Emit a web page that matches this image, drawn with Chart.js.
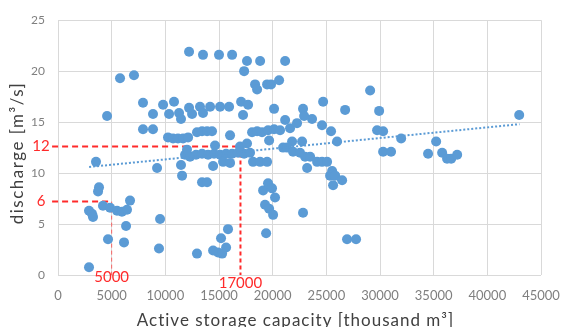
<!DOCTYPE html>
<html>
<head>
<meta charset="utf-8">
<script src="https://cdn.jsdelivr.net/npm/chart.js@4/dist/chart.umd.min.js"></script>
<style>
  html, body { margin: 0; padding: 0; background: #ffffff; }
  #wrap { width: 585px; height: 327px; }
</style>
</head>
<body>
<div id="wrap"><canvas id="c" width="585" height="327"></canvas></div>
<script>
// ---- Data ----
const capacity = [
  12210,13510,15000,16220,17610,18830,21160,17340,5780,7080,
  18360,18550,19480,19850,20600,29080,4570,7920,8850,9790,
  10810,10350,11280,11460,12210,12490,13230,13510,14170,15100,
  15940,24700,17060,17710,17240,20130,22830,23670,26750,29920,
  42970,7920,8850,10250,10720,11180,11650,12120,12950,13420,
  13890,14350,16030,18080,18550,19010,19570,20130,20690,21620,
  22270,21160,22930,24600,25440,29730,30290,31970,19670,21810,
  22740,26000,35230,11840,12300,12860,13420,13980,14540,15100,
  15660,16220,16780,17340,17890,14630,16960,17610,12020,14450,
  15380,16030,18170,18830,19480,9230,11460,11560,13420,13890,
  20970,21340,21900,22550,23020,23490,24140,24600,25070,25540,
  25350,25820,26470,25630,23210,30290,31030,34480,35790,36250,
  36630,37190,3540,19110,19570,19940,20220,19290,19670,20040,
  19390,22830,26930,27770,15840,15190,15660,15290,14910,14450,
  12950,9510,9410,3820,3730,2890,3170,3260,4190,4850,
  5500,5960,6430,6710,6340,4660,6150,2890
];
const discharge = [
  21.9,21.6,21.6,21.6,21.0,21.0,21.0,20.0,19.3,19.6,
  18.7,18.2,18.7,18.7,19.1,18.1,15.6,16.9,15.8,16.7,
  17.0,15.8,15.9,15.3,16.4,15.8,16.5,15.9,16.5,16.5,
  16.5,17.0,17.0,16.7,15.7,16.3,16.3,15.3,16.2,16.1,
  15.7,14.3,14.3,13.5,13.4,13.4,13.4,13.5,14.0,14.1,
  14.1,14.1,13.7,14.0,14.1,14.0,14.2,14.3,14.2,14.4,
  14.9,15.2,15.6,14.7,14.1,14.2,14.1,13.4,13.2,13.1,
  13.1,13.1,13.1,11.8,11.6,11.8,11.9,11.8,11.9,11.8,
  11.9,11.9,12.0,11.9,12.0,12.7,12.6,12.9,12.3,10.7,
  11.1,11.0,11.1,11.1,11.1,10.5,10.8,9.75,9.1,9.1,
  12.5,12.5,12.1,12.0,11.6,11.6,11.1,11.1,11.1,10.2,
  9.75,9.75,9.3,8.8,10.5,12.1,12.1,11.9,12.0,11.4,
  11.4,11.8,11.1,8.3,9.0,8.5,7.6,6.9,6.5,5.9,
  4.1,6.1,3.5,3.5,4.5,3.6,2.7,2.1,2.2,2.4,
  2.1,5.5,2.6,8.6,8.2,6.3,6.0,5.7,6.8,6.6,
  6.3,6.2,6.4,7.3,4.8,3.5,3.2,0.76
];
// Linear trendline end points (as drawn in the reference)
const trendX = [2900, 43000];
const trendY = [10.6, 14.8];
// Red reference guides: capacity value, drawn discharge level, labels
const guideX = [5000, 17000];
const guideYLevel = [7.2, 12.6];
const guideXLabels = ['5000', '17000'];
const guideYLabels = ['6', '12'];
// Axis ticks / titles
const xTicks = [0, 5000, 10000, 15000, 20000, 25000, 30000, 35000, 40000, 45000];
const yTicks = [0, 5, 10, 15, 20, 25];
const xTitle = 'Active storage capacity [thousand m³]';
const yTitle = 'discharge [m³/s]';

const BLUE = '#5b9bd5';
const RED = '#ff2a2a';
const FONT = 'Lato, "Open Sans", "DejaVu Sans", sans-serif';

const scatterData = capacity.map((x, i) => ({ x: x, y: discharge[i] }));
const trendData = trendX.map((x, i) => ({ x: x, y: trendY[i] }));

const guidesPlugin = {
  id: 'guides',
  beforeDatasetsDraw(chart) {
    const ctx = chart.ctx;
    const xs = chart.scales.x, ys = chart.scales.y;
    ctx.save();
    for (let i = 0; i < guideX.length; i++) {
      const px = xs.getPixelForValue(guideX[i]);
      const py = ys.getPixelForValue(guideYLevel[i]);
      const x0 = xs.getPixelForValue(-550);
      const yb = ys.getPixelForValue(0);
      ctx.strokeStyle = RED;
      ctx.lineWidth = 2;
      ctx.setLineDash([6, 4]);
      ctx.beginPath();
      ctx.moveTo(x0, py);
      ctx.lineTo(px, py);
      ctx.stroke();
      ctx.lineWidth = i === 0 ? 1 : 2;
      ctx.strokeStyle = i === 0 ? 'rgba(255,60,60,0.75)' : RED;
      ctx.setLineDash([4, 3]);
      ctx.beginPath();
      ctx.moveTo(px, py);
      ctx.lineTo(px, yb);
      ctx.stroke();
    }
    ctx.restore();
  },
  afterDraw(chart) {
    const ctx = chart.ctx;
    const xs = chart.scales.x, ys = chart.scales.y;
    ctx.save();
    ctx.fillStyle = RED;
    ctx.font = '15px ' + FONT;
    ctx.textAlign = 'center';
    ctx.textBaseline = 'middle';
    const xLabelY = [277, 283];
    for (let i = 0; i < guideX.length; i++) {
      const px = xs.getPixelForValue(guideX[i]);
      const py = ys.getPixelForValue(guideYLevel[i]);
      ctx.fillText(guideXLabels[i], px, xLabelY[i]);
      ctx.fillText(guideYLabels[i], 41, py);
    }
    // axis titles
    ctx.fillStyle = '#404040';
    ctx.font = '17px ' + FONT;
    ctx.textAlign = 'center';
    ctx.textBaseline = 'alphabetic';
    ctx.letterSpacing = '1px';
    ctx.fillText(xTitle, (chart.chartArea.left + chart.chartArea.right) / 2 - 4, 326);
    ctx.letterSpacing = '1.5px';
    ctx.translate(23, 153);
    ctx.rotate(-Math.PI / 2);
    ctx.fillText(yTitle, 0, 0);
    ctx.restore();
  }
};

new Chart(document.getElementById('c'), {
  type: 'scatter',
  data: {
    datasets: [
      {
        type: 'line',
        label: 'Trend',
        data: trendData,
        borderColor: BLUE,
        borderWidth: 2,
        borderDash: [2, 2],
        pointRadius: 0,
        fill: false,
        order: 0
      },
      {
        label: 'discharge',
        data: scatterData,
        backgroundColor: BLUE,
        borderColor: BLUE,
        borderWidth: 0,
        pointRadius: 5,
        order: 1
      }
    ]
  },
  options: {
    responsive: false,
    animation: false,
    devicePixelRatio: 1,
    layout: { padding: { left: 0, right: 44, top: 11, bottom: 0 } },
    plugins: { legend: { display: false }, tooltip: { enabled: false } },
    scales: {
      x: {
        type: 'linear',
        min: 0, max: 45000,
        afterBuildTicks(scale) { scale.ticks = xTicks.map(v => ({ value: v })); },
        afterFit(scale) { scale.height = 52; },
        border: { display: false },
        grid: { color: '#d9d9d9', lineWidth: 1, drawTicks: false },
        ticks: {
          color: '#7f7f7f',
          font: { family: FONT, size: 13 },
          padding: 13,
          maxRotation: 0,
          callback: v => String(v)
        }
      },
      y: {
        type: 'linear',
        min: 0, max: 25,
        afterBuildTicks(scale) { scale.ticks = yTicks.map(v => ({ value: v })); },
        afterFit(scale) { scale.width = 58; },
        border: { display: false },
        grid: { color: '#d9d9d9', lineWidth: 1, drawTicks: false },
        ticks: {
          color: '#7f7f7f',
          font: { family: FONT, size: 12 },
          padding: 13,
          callback: v => String(v)
        }
      }
    }
  },
  plugins: [guidesPlugin]
});
</script>
</body>
</html>
